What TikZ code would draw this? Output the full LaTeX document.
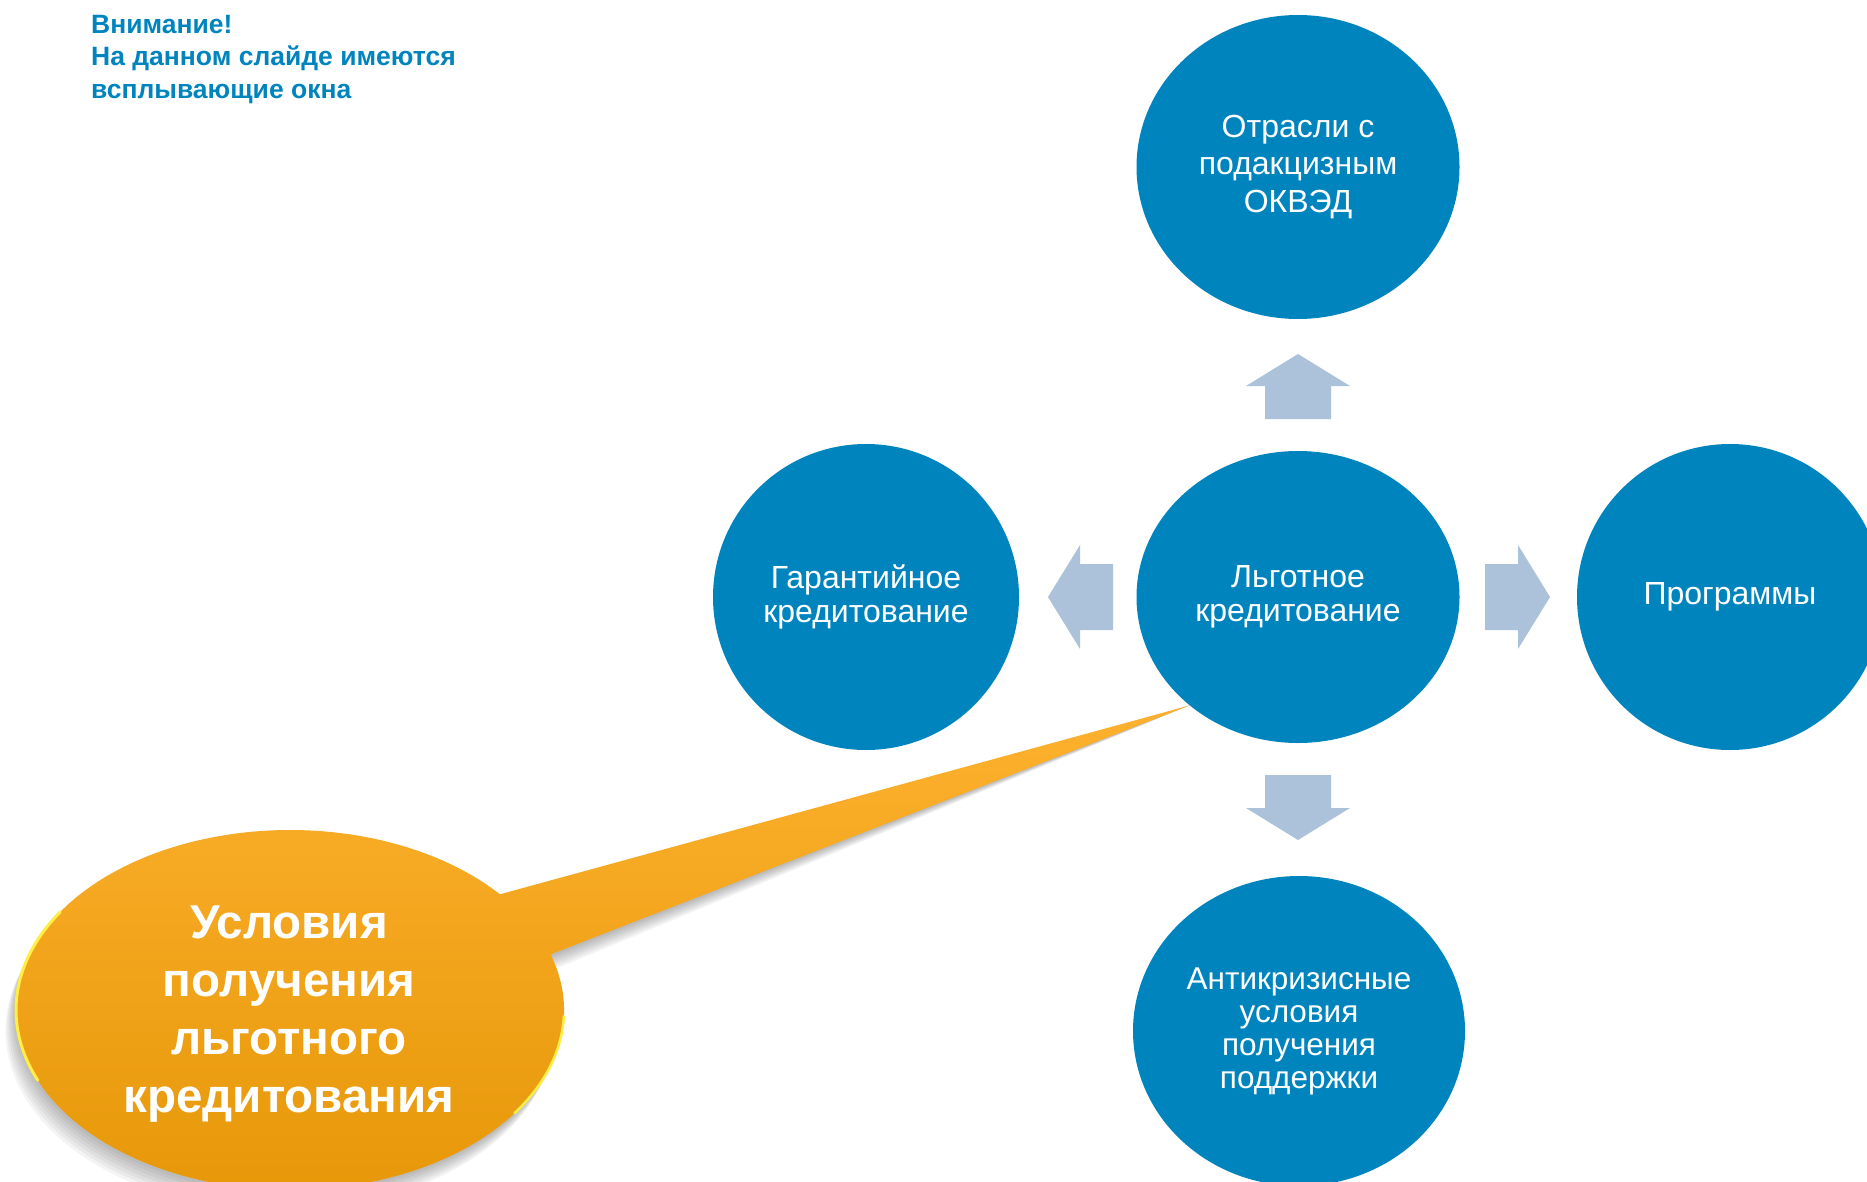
\documentclass[tikz,border=0pt]{standalone}
\usepackage{fontspec}
\setmainfont{Liberation Sans}
\usepackage{tikz}
\usetikzlibrary{shapes.geometric}

\definecolor{krug}{RGB}{0,132,190}
\definecolor{strelka}{RGB}{171,194,218}
\definecolor{oranzh}{RGB}{253,177,46}
\definecolor{oranzhtemn}{RGB}{230,151,8}
\definecolor{obodok}{RGB}{255,238,70}

\newcommand{\vynoska}{(290,1010) ++(-18:274 and 180) arc[start angle=-18, end angle=320, x radius=274, y radius=180] -- (lgot.-135) -- cycle}

\begin{document}
\begin{tikzpicture}[x=1pt,y=-1pt]
    \tikzstyle{krugl}=[ellipse,fill=krug,text=white,inner sep=0,align=center,font=\fontsize{32}{34}\selectfont]

    \useasboundingbox (0,0) rectangle (1867,1182);

    \node[anchor=north west,inner sep=0,align=left,text=krug,font=\bfseries\fontsize{26.5}{32.5}\selectfont] (vnim) at (91,15) {Внимание!\\На данном слайде имеются\\всплывающие окна};

    \node[krugl,minimum width=323pt,minimum height=304pt,font=\fontsize{32}{37.5}\selectfont] (otrasli) at (1298,167) {Отрасли с\\подакцизным\\ОКВЭД};
    \node[krugl,minimum width=323pt,minimum height=292pt] (lgot) at (1298,597) {Льготное\\кредитование};
    \node[krugl,minimum size=306pt] (garant) at (866,597) {Гарантийное\\кредитование};
    \node[krugl,minimum size=306pt] (progr) at (1730,597) {Программы};
    \node[krugl,minimum width=332pt,minimum height=310pt,font=\fontsize{31.5}{33}\selectfont] (antikr) at (1299,1031) {Антикризисные\\условия\\получения\\поддержки};

    \foreach \ugol/\px/\py in {90/1298/386, -90/1298/808, 180/1080/597, 0/1518/597}
        \fill[strelka,shift={(\px,\py)},rotate=\ugol] (-33,-33) rectangle (0,33) (0,-52) -- (32,0) -- (0,52) -- cycle;

    \foreach \d in {3,6,...,21}
        \fill[black,opacity=0.045,shift={(-0.5*\d,\d)}] \vynoska;
    \shade[top color=oranzh,bottom color=oranzhtemn] \vynoska;
    \draw[obodok,line width=3pt,line cap=round] (290,1010) ++(157:274 and 180) arc[start angle=157, end angle=213, x radius=274, y radius=180];
    \draw[obodok,line width=2.5pt,line cap=round] (290,1010) ++(2:274 and 180) arc[start angle=2, end angle=35, x radius=274, y radius=180];

    \node[inner sep=0,align=center,text=white,font=\bfseries\fontsize{47.5}{58}\selectfont] (usl) at (289,1014) {Условия\\получения\\льготного\\кредитования};
\end{tikzpicture}
\end{document}
